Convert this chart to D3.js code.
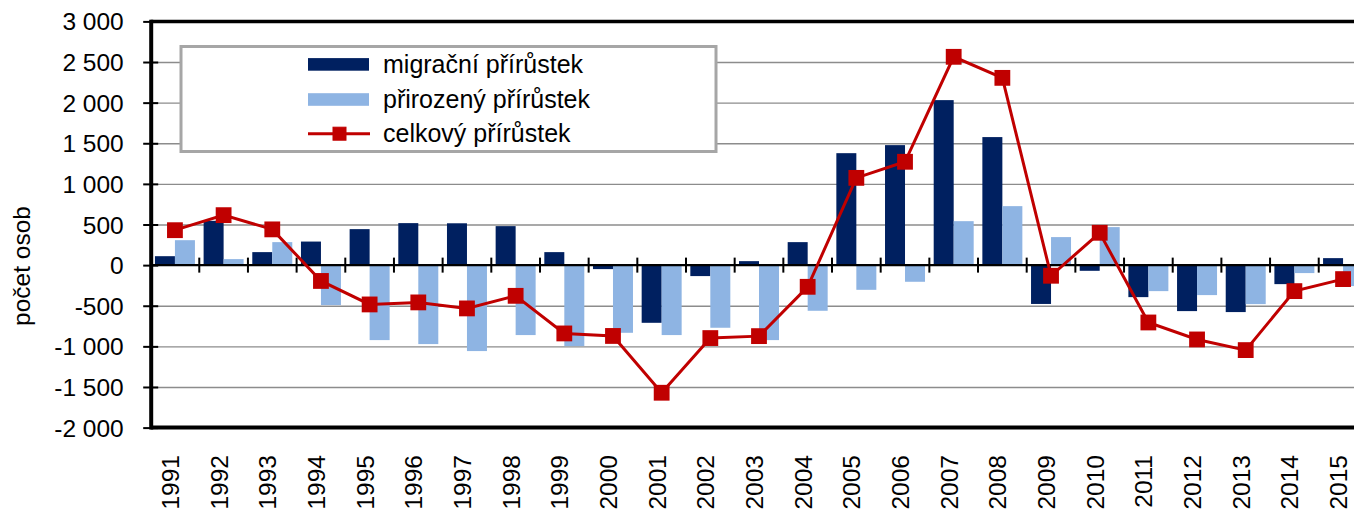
<!DOCTYPE html>
<html>
<head>
<meta charset="utf-8">
<script src="https://cdn.jsdelivr.net/npm/d3@7"></script>
<style>
  body { margin: 0; background: #fff; }
  svg { display: block; font-family: Arial, "Liberation Sans", sans-serif; }
</style>
</head>
<body>
<div class="chart"></div>
<script>
// data
var years = ["1991","1992","1993","1994","1995","1996","1997","1998","1999","2000","2001","2002","2003",
             "2004","2005","2006","2007","2008","2009","2010","2011","2012","2013","2014","2015"];
var migration = [110, 545, 160, 290, 443, 517, 515, 480, 160, -49, -710, -135, 49,
                 283, 1378, 1477, 2031, 1576, -478, -70, -394, -566, -578, -234, 86];
var natural = [307, 74, 283, -492, -923, -972, -1058, -861, -997, -833, -861, -771, -923,
               -562, -304, -205, 541, 726, 345, 468, -320, -369, -480, -98, -258];
var total = [430, 615, 440, -195, -484, -459, -533, -378, -841, -872, -1571, -898, -874,
             -267, 1074, 1272, 2564, 2305, -131, 398, -706, -915, -1046, -320, -172];
var seriesNames = ["migrační přírůstek", "přirozený přírůstek", "celkový přírůstek"];
var yTicks = [3000, 2500, 2000, 1500, 1000, 500, 0, -500, -1000, -1500, -2000];

const width = 1354;
const height = 509;
const plotLeft = 150.6, plotRight = 1367.4, plotTop = 21.4, plotBottom = 427.6;
const colMig = "#002060", colNat = "#8eb4e3", colTot = "#c00000";

const fmt = d3.formatLocale({decimal: ",", thousands: " ", grouping: [3], currency: ["", ""], minus: "-"}).format(",d");

const svg = d3.select('.chart')
  .append('svg')
  .attr('width', width)
  .attr('height', height);

const x = d3.scaleBand().domain(years).range([plotLeft, plotRight]).padding(0);
const x1 = d3.scaleBand().domain(["mig", "nat"]).range([0, x.bandwidth()]).paddingOuter(0.217);
const y = d3.scaleLinear().domain([-2000, 3000]).range([plotBottom, plotTop]);

const rows = years.map((yr, i) => ({year: yr, mig: migration[i], nat: natural[i], tot: total[i]}));

// gridlines
svg.append("g")
  .attr("transform", `translate(${plotLeft},0)`)
  .call(d3.axisLeft(y).tickValues(yTicks.filter(v => v != 0 && v != 3000 && v != -2000))
    .tickSize(-(plotRight - plotLeft)).tickFormat(""))
  .call(g => g.select(".domain").remove())
  .selectAll("line")
  .attr("stroke", "#8c8c8c")
  .attr("stroke-width", 1.4);

// bars
const groups = svg.selectAll("g.year")
  .data(rows)
  .enter()
  .append("g")
  .attr("class", "year")
  .attr("transform", d => `translate(${x(d.year)},0)`);

groups.append("rect")
  .attr("x", x1("mig"))
  .attr("width", x1.bandwidth())
  .attr("y", d => y(Math.max(0, d.mig)))
  .attr("height", d => Math.abs(y(d.mig) - y(0)))
  .attr("fill", colMig);

groups.append("rect")
  .attr("x", x1("nat"))
  .attr("width", x1.bandwidth())
  .attr("y", d => y(Math.max(0, d.nat)))
  .attr("height", d => Math.abs(y(d.nat) - y(0)))
  .attr("fill", colNat);

// zero line with cross ticks
svg.append("line")
  .attr("x1", plotLeft).attr("x2", plotRight)
  .attr("y1", y(0)).attr("y2", y(0))
  .attr("stroke", "#000").attr("stroke-width", 2.2);

svg.selectAll("line.xtick")
  .data(years.slice(1))
  .enter()
  .append("line")
  .attr("class", "xtick")
  .attr("x1", d => x(d)).attr("x2", d => x(d))
  .attr("y1", y(0) - 7.5).attr("y2", y(0) + 7.5)
  .attr("stroke", "#000").attr("stroke-width", 2);

// plot frame: top, bottom, left axis
svg.append("line")
  .attr("x1", plotLeft).attr("x2", plotRight).attr("y1", plotTop).attr("y2", plotTop)
  .attr("stroke", "#000").attr("stroke-width", 3.5);
svg.append("line")
  .attr("x1", plotLeft).attr("x2", plotRight).attr("y1", plotBottom).attr("y2", plotBottom)
  .attr("stroke", "#000").attr("stroke-width", 4);

const yAxis = svg.append("g")
  .attr("transform", `translate(${plotLeft + 0.6},0)`)
  .call(d3.axisLeft(y).tickValues(yTicks).tickSize(7).tickPadding(20).tickFormat(fmt));
yAxis.select(".domain").remove();
yAxis.selectAll("line").attr("x1", 7).attr("x2", -8).attr("stroke", "#000").attr("stroke-width", 2);
yAxis.selectAll("text")
  .attr("font-size", 24.5)
  .attr("fill", "#000")
  .attr("x", -27.5)
  .attr("dy", "0.35em");
yAxis.append("line")
  .attr("x1", 0).attr("x2", 0).attr("y1", plotTop - 1.7).attr("y2", plotBottom + 2)
  .attr("stroke", "#000").attr("stroke-width", 4);

// total line
const line = d3.line()
  .x(d => x(d.year) + x.bandwidth() / 2)
  .y(d => y(d.tot));

svg.append("path")
  .datum(rows)
  .attr("d", line)
  .attr("fill", "none")
  .attr("stroke", colTot)
  .attr("stroke-width", 3);

svg.selectAll("rect.marker")
  .data(rows)
  .enter()
  .append("rect")
  .attr("class", "marker")
  .attr("x", d => x(d.year) + x.bandwidth() / 2 - 7)
  .attr("y", d => y(d.tot) - 7)
  .attr("width", 14).attr("height", 14)
  .attr("fill", colTot)
  .attr("stroke", colTot)
  .attr("stroke-width", 1.8);

// x labels
svg.selectAll("text.xlab")
  .data(years)
  .enter()
  .append("text")
  .attr("class", "xlab")
  .attr("transform", d => `translate(${x(d) + x.bandwidth() / 2 + 4},455) rotate(-90)`)
  .attr("text-anchor", "end")
  .attr("font-size", 24.5)
  .text(d => d);

// y title
svg.append("text")
  .attr("transform", "translate(30,266) rotate(-90)")
  .attr("text-anchor", "middle")
  .attr("font-size", 24.5)
  .text("počet osob");

// legend
const legend = svg.append("g");
legend.append("rect")
  .attr("x", 181).attr("y", 46.5)
  .attr("width", 535).attr("height", 105)
  .attr("fill", "#fff")
  .attr("stroke", "#a6a6a6")
  .attr("stroke-width", 3);

const rowY = [64.4, 99.5, 133.7];
legend.append("rect").attr("x", 308).attr("y", rowY[0] - 6.3).attr("width", 61).attr("height", 12.6).attr("fill", colMig);
legend.append("rect").attr("x", 308).attr("y", rowY[1] - 6.3).attr("width", 61).attr("height", 12.6).attr("fill", colNat);
legend.append("line").attr("x1", 308).attr("x2", 370).attr("y1", rowY[2]).attr("y2", rowY[2])
  .attr("stroke", colTot).attr("stroke-width", 3);
legend.append("rect").attr("x", 333).attr("y", rowY[2] - 6.5).attr("width", 13).attr("height", 13)
  .attr("fill", colTot).attr("stroke", colTot).attr("stroke-width", 1);

legend.selectAll("text")
  .data(seriesNames)
  .enter()
  .append("text")
  .attr("x", 383)
  .attr("y", (d, i) => rowY[i] + 8.5)
  .attr("font-size", 25)
  .text(d => d);
</script>
</body>
</html>
